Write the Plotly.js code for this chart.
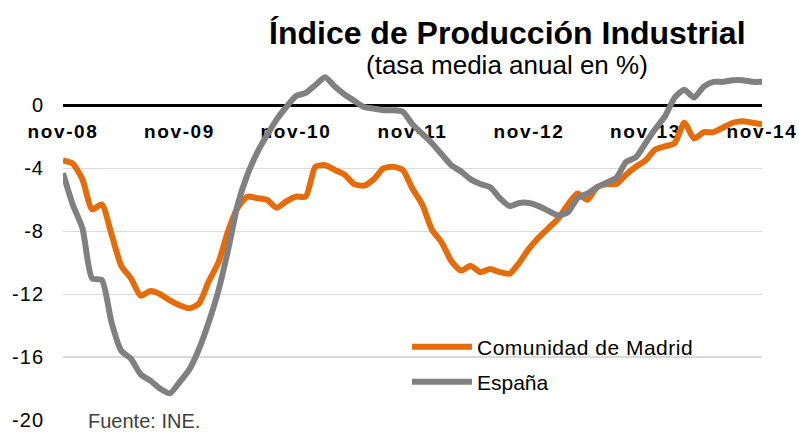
<!DOCTYPE html>
<html>
<head>
<meta charset="utf-8">
<script src="https://cdn.plot.ly/plotly-3.0.1.min.js"></script>
<style>
html,body{margin:0;padding:0;background:#fff;}
#chart{width:799px;height:432px;}
.xtick text{letter-spacing:1.6px;}
.ytick text{letter-spacing:1px;}
.legendtext{letter-spacing:0.5px;}
</style>
</head>
<body>
<div id="chart"></div>
<script>
const meses = [
 'nov-08','dic-08','ene-09','feb-09','mar-09','abr-09','may-09','jun-09','jul-09','ago-09','sep-09','oct-09',
 'nov-09','dic-09','ene-10','feb-10','mar-10','abr-10','may-10','jun-10','jul-10','ago-10','sep-10','oct-10',
 'nov-10','dic-10','ene-11','feb-11','mar-11','abr-11','may-11','jun-11','jul-11','ago-11','sep-11','oct-11',
 'nov-11','dic-11','ene-12','feb-12','mar-12','abr-12','may-12','jun-12','jul-12','ago-12','sep-12','oct-12',
 'nov-12','dic-12','ene-13','feb-13','mar-13','abr-13','may-13','jun-13','jul-13','ago-13','sep-13','oct-13',
 'nov-13','dic-13','ene-14','feb-14','mar-14','abr-14','may-14','jun-14','jul-14','ago-14','sep-14','oct-14',
 'nov-14'
];
const madrid = [
 -3.5,-3.7,-4.7,-6.6,-6.3,-8.2,-10.2,-11.0,-12.1,-11.8,-12.0,-12.4,
 -12.7,-12.9,-12.6,-11.2,-10.0,-8.0,-6.5,-5.8,-5.9,-6.0,-6.5,-6.1,
 -5.8,-5.8,-3.9,-3.8,-4.1,-4.4,-5.0,-5.1,-4.7,-4.0,-3.9,-4.1,
 -5.3,-6.3,-7.9,-8.7,-9.9,-10.5,-10.2,-10.6,-10.4,-10.6,-10.7,-10.0,
 -9.1,-8.4,-7.8,-7.2,-6.3,-5.6,-6.0,-5.2,-5.0,-5.0,-4.4,-3.9,
 -3.5,-2.8,-2.6,-2.4,-1.1,-2.1,-1.7,-1.7,-1.4,-1.1,-1.0,-1.1,
 -1.2
];
const espana = [
 -4.3,-6.3,-7.8,-11.0,-11.1,-13.8,-15.6,-16.1,-17.1,-17.5,-18.0,-18.3,
 -17.6,-16.8,-15.5,-13.8,-11.8,-9.2,-6.3,-4.4,-3.0,-1.9,-0.9,-0.1,
 0.6,0.8,1.3,1.8,1.2,0.7,0.3,-0.1,-0.2,-0.3,-0.3,-0.4,
 -1.2,-1.8,-2.4,-3.1,-3.8,-4.2,-4.7,-5.0,-5.2,-5.9,-6.4,-6.2,
 -6.2,-6.4,-6.7,-7.0,-6.8,-5.9,-5.6,-5.2,-4.9,-4.6,-3.6,-3.3,
 -2.4,-1.5,-0.7,0.5,1.0,0.5,1.2,1.5,1.5,1.6,1.6,1.5,
 1.5
];
const xTicks = ['nov-08','nov-09','nov-10','nov-11','nov-12','nov-13','nov-14'];
const yTicks = [0,-4,-8,-12,-16,-20];
const nombres = ['Comunidad de Madrid','España'];

const W=799,H=432,L=63,R=37,T=74,B=12;
const pw=W-L-R, ph=H-T-B;
const px=x=>(x-L)/pw, py=y=>(H-B-y)/ph;
const FONT='Liberation Sans, Arial, sans-serif';

const traces=[
 {x:meses,y:madrid,name:nombres[0],type:'scatter',mode:'lines',
  line:{color:'#E46C0A',width:6,shape:'spline',smoothing:0.6},legend:'legend'},
 {x:meses,y:espana,name:nombres[1],type:'scatter',mode:'lines',
  line:{color:'#808080',width:6,shape:'spline',smoothing:0.6},legend:'legend2'}
];
const legCommon={font:{family:FONT,size:21,color:'#000'},bgcolor:'rgba(0,0,0,0)',borderwidth:0,
  xref:'paper',yref:'paper',xanchor:'left',yanchor:'middle',itemwidth:60};
const layout={
 width:W,height:H,margin:{l:L,r:R,t:T,b:B,pad:0},
 paper_bgcolor:'#fff',plot_bgcolor:'#fff',
 showlegend:true,
 legend:Object.assign({},legCommon,{x:px(407),y:py(347)}),
 legend2:Object.assign({},legCommon,{x:px(407),y:py(382)}),
 xaxis:{type:'category',range:[0,meses.length-1],tickmode:'array',tickvals:xTicks,ticktext:xTicks,
   anchor:'free',position:20/22,showline:true,linecolor:'#000',linewidth:3,
   showgrid:false,zeroline:false,ticks:'',ticklabelstandoff:8,layer:'below traces',
   tickfont:{family:FONT,size:19,color:'#000',weight:'bold'},fixedrange:true},
 yaxis:{range:[-20,2],tickmode:'array',tickvals:yTicks,ticktext:yTicks.map(String),
   showgrid:true,gridcolor:'#D9D9D9',gridwidth:1.2,zeroline:false,showline:false,ticks:'',
   ticklabelstandoff:18,layer:'below traces',
   tickfont:{family:FONT,size:20,color:'#000'},fixedrange:true},
 annotations:[
  {text:'Índice de Producción Industrial',xref:'paper',yref:'paper',x:px(267),y:py(33),
   xanchor:'left',yanchor:'middle',showarrow:false,font:{family:FONT,size:32,color:'#000',weight:'bold'}},
  {text:'(tasa media anual en %)',xref:'paper',yref:'paper',x:px(364),y:py(65),
   xanchor:'left',yanchor:'middle',showarrow:false,font:{family:FONT,size:26,color:'#000'}},
  {text:'Fuente: INE.',xref:'paper',yref:'paper',x:px(86),y:py(421),
   xanchor:'left',yanchor:'middle',showarrow:false,font:{family:FONT,size:20,color:'#404040'}}
 ]
};
Plotly.newPlot('chart',traces,layout,{staticPlot:true,displayModeBar:false});
</script>
</body>
</html>
